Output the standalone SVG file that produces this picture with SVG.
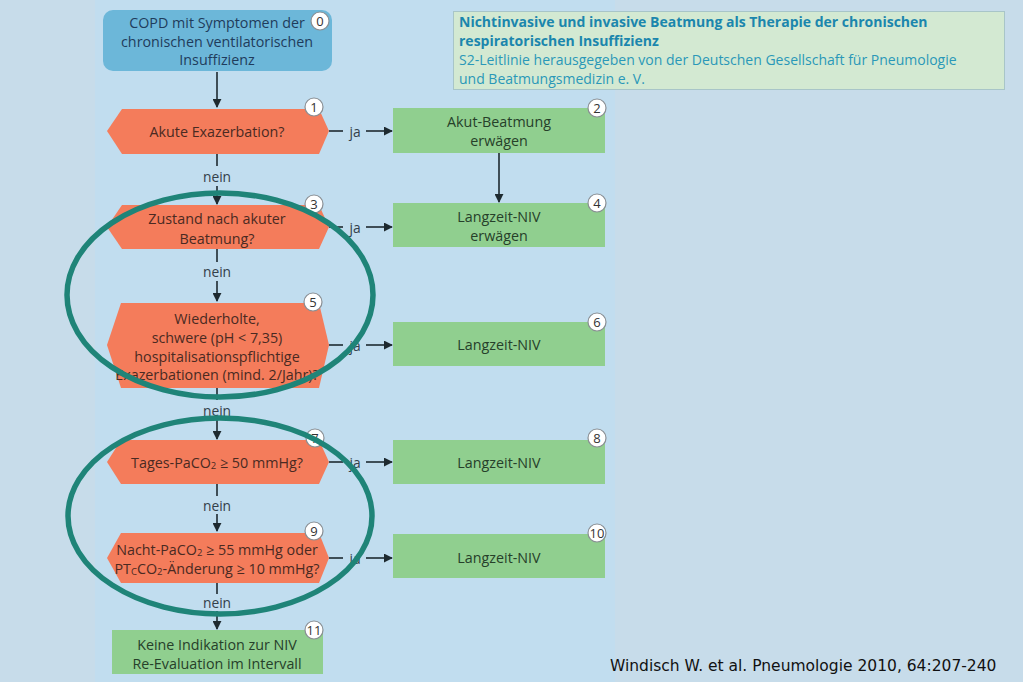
<svg xmlns="http://www.w3.org/2000/svg" width="1023" height="682" viewBox="0 0 1023 682">
<defs>
<marker id="ah" viewBox="0 0 10 10" refX="9" refY="5" markerWidth="9" markerHeight="9" markerUnits="userSpaceOnUse" orient="auto">
<path d="M0,0 L10,5 L0,10 z" fill="#1e2a30"/>
</marker>
<style>
.t{font-family:"Open Sans","Noto Sans","Liberation Sans",sans-serif;font-size:14.3px;text-anchor:middle;dominant-baseline:central}
.dec{fill:#f47c5b}
.dt{fill:#4a2a22}
.grn{fill:#90cf8f}
.gt{fill:#26402a}
.lbl{fill:#33404a;font-size:13.8px}
.ln{stroke:#1e2a30;stroke-width:1.6;fill:none}
.num circle{fill:#ffffff;stroke:#8a8f94;stroke-width:1.2}
.num text{font-family:"Open Sans","Noto Sans",sans-serif;font-size:13px;text-anchor:middle;dominant-baseline:central;fill:#333}
.ring{fill:none;stroke:#1f8478;stroke-width:5.5}
.sub{font-size:9.5px}
</style>
</defs>
<rect width="1023" height="682" fill="#c7dcea"/>
<rect x="95" y="0" width="520" height="682" fill="#c1ddef"/>

<g id="header">
<rect x="453.5" y="11.5" width="551" height="78" fill="#d3e9d2" stroke="#a8c5c8" stroke-width="1"/>
<text x="459" y="21" font-family="'Open Sans','Noto Sans',sans-serif" font-size="14" font-weight="bold" fill="#1b86ad" dominant-baseline="central">Nichtinvasive und invasive Beatmung als Therapie der chronischen</text>
<text x="459" y="40" font-family="'Open Sans','Noto Sans',sans-serif" font-size="14" font-weight="bold" fill="#1b86ad" dominant-baseline="central">respiratorischen Insuffizienz</text>
<text x="459" y="59" font-family="'Open Sans','Noto Sans',sans-serif" font-size="14" fill="#2a98b8" dominant-baseline="central">S2-Leitlinie herausgegeben von der Deutschen Gesellschaft für Pneumologie</text>
<text x="459" y="78" font-family="'Open Sans','Noto Sans',sans-serif" font-size="14" fill="#2a98b8" dominant-baseline="central">und Beatmungsmedizin e. V.</text>
</g>

<g id="connectors">
<line class="ln" x1="217" y1="72" x2="217" y2="107" marker-end="url(#ah)"/>
<line class="ln" x1="217" y1="154" x2="217" y2="166"/>
<text class="t lbl" x="217" y="176">nein</text>
<line class="ln" x1="217" y1="186" x2="217" y2="204" marker-end="url(#ah)"/>
<line class="ln" x1="217" y1="249" x2="217" y2="262"/>
<text class="t lbl" x="217" y="271">nein</text>
<line class="ln" x1="217" y1="281" x2="217" y2="301" marker-end="url(#ah)"/>
<line class="ln" x1="217" y1="388" x2="217" y2="400"/>
<text class="t lbl" x="217" y="410">nein</text>
<line class="ln" x1="217" y1="419" x2="217" y2="439" marker-end="url(#ah)"/>
<line class="ln" x1="217" y1="484" x2="217" y2="496"/>
<text class="t lbl" x="217" y="505">nein</text>
<line class="ln" x1="217" y1="514" x2="217" y2="531" marker-end="url(#ah)"/>
<line class="ln" x1="217" y1="583" x2="217" y2="594"/>
<text class="t lbl" x="217" y="602">nein</text>
<line class="ln" x1="217" y1="611" x2="217" y2="629" marker-end="url(#ah)"/>
<line class="ln" x1="499" y1="153" x2="499" y2="202" marker-end="url(#ah)"/>
<line class="ln" x1="329" y1="131" x2="343" y2="131"/>
<text class="t lbl" x="355" y="131">ja</text>
<line class="ln" x1="366" y1="131" x2="392" y2="131" marker-end="url(#ah)"/>
<line class="ln" x1="329" y1="227" x2="343" y2="227"/>
<text class="t lbl" x="355" y="227">ja</text>
<line class="ln" x1="366" y1="227" x2="392" y2="227" marker-end="url(#ah)"/>
<line class="ln" x1="329" y1="345" x2="343" y2="345"/>
<text class="t lbl" x="355" y="345">ja</text>
<line class="ln" x1="366" y1="345" x2="392" y2="345" marker-end="url(#ah)"/>
<line class="ln" x1="329" y1="462" x2="343" y2="462"/>
<text class="t lbl" x="355" y="462">ja</text>
<line class="ln" x1="366" y1="462" x2="392" y2="462" marker-end="url(#ah)"/>
<line class="ln" x1="329" y1="558" x2="343" y2="558"/>
<text class="t lbl" x="355" y="558">ja</text>
<line class="ln" x1="366" y1="558" x2="392" y2="558" marker-end="url(#ah)"/>
</g>

<g id="node0">
<rect x="103" y="10" width="229" height="61" rx="10" fill="#6cb7d9"/>
<text class="t" fill="#1f3c5c" x="217" y="22">COPD mit Symptomen der</text>
<text class="t" fill="#1f3c5c" x="217" y="41">chronischen ventilatorischen</text>
<text class="t" fill="#1f3c5c" x="217" y="59">Insuffizienz</text>
<g class="num"><circle cx="320" cy="21" r="9"/><text x="320" y="21">0</text></g>
</g>

<g id="node1">
<polygon class="dec" points="122,109 319,109 329,131 319,154 122,154 107,131"/>
<text class="t dt" x="217" y="131">Akute Exazerbation?</text>
<g class="num"><circle cx="314" cy="107" r="9"/><text x="314" y="107">1</text></g>
</g>

<g id="node2">
<rect class="grn" x="393" y="108" width="212" height="45"/>
<text class="t gt" x="499" y="121">Akut-Beatmung</text>
<text class="t gt" x="499" y="140">erwägen</text>
<g class="num"><circle cx="597" cy="108" r="9"/><text x="597" y="108">2</text></g>
</g>

<g id="node3">
<polygon class="dec" points="122,205 319,205 329,227 319,249 122,249 107,227"/>
<text class="t dt" x="217" y="218">Zustand nach akuter</text>
<text class="t dt" x="217" y="238">Beatmung?</text>
<g class="num"><circle cx="314" cy="204" r="9"/><text x="314" y="204">3</text></g>
</g>

<g id="node4">
<rect class="grn" x="393" y="203" width="212" height="44"/>
<text class="t gt" x="499" y="216">Langzeit-NIV</text>
<text class="t gt" x="499" y="235">erwägen</text>
<g class="num"><circle cx="597" cy="203" r="9"/><text x="597" y="203">4</text></g>
</g>

<g id="node5">
<polygon class="dec" points="121,303 319,303 329,345 319,388 121,388 107,345"/>
<text class="t dt" x="217" y="318">Wiederholte,</text>
<text class="t dt" x="217" y="337">schwere (pH &lt; 7,35)</text>
<text class="t dt" x="217" y="356">hospitalisationspflichtige</text>
<text class="t dt" x="217" y="374">Exazerbationen (mind. 2/Jahr)?</text>
<g class="num"><circle cx="313" cy="302" r="9"/><text x="313" y="302">5</text></g>
</g>

<g id="node6">
<rect class="grn" x="393" y="322" width="212" height="44"/>
<text class="t gt" x="499" y="344">Langzeit-NIV</text>
<g class="num"><circle cx="597" cy="322" r="9"/><text x="597" y="322">6</text></g>
</g>

<g id="node7">
<polygon class="dec" points="121,440 319,440 329,462 319,484 121,484 107,462"/>
<text class="t dt" x="217" y="462">Tages-PaCO<tspan class="sub" dy="3">2</tspan><tspan dy="-3"> ≥ 50 mmHg?</tspan></text>
<g class="num"><circle cx="315" cy="438" r="9"/><text x="315" y="438">7</text></g>
</g>

<g id="node8">
<rect class="grn" x="393" y="440" width="212" height="44"/>
<text class="t gt" x="499" y="462">Langzeit-NIV</text>
<g class="num"><circle cx="597" cy="438" r="9"/><text x="597" y="438">8</text></g>
</g>

<g id="node9">
<polygon class="dec" points="121,533 319,533 329,558 319,583 121,583 107,558"/>
<text class="t dt" x="217" y="549">Nacht-PaCO<tspan class="sub" dy="3">2</tspan><tspan dy="-3"> ≥ 55 mmHg oder</tspan></text>
<text class="t dt" x="217" y="568">PT<tspan class="sub" dy="3">C</tspan><tspan dy="-3">CO</tspan><tspan class="sub" dy="3">2</tspan><tspan dy="-3">-Änderung ≥ 10 mmHg?</tspan></text>
<g class="num"><circle cx="314" cy="531" r="9"/><text x="314" y="531">9</text></g>
</g>

<g id="node10">
<rect class="grn" x="393" y="534" width="212" height="44"/>
<text class="t gt" x="499" y="557">Langzeit-NIV</text>
<g class="num"><circle cx="597" cy="533" r="9"/><text x="597" y="533">10</text></g>
</g>

<g id="node11">
<rect class="grn" x="112" y="630" width="211" height="44"/>
<text class="t gt" x="217" y="644">Keine Indikation zur NIV</text>
<text class="t gt" x="217" y="663">Re-Evaluation im Intervall</text>
<g class="num"><circle cx="314" cy="630" r="9"/><text x="314" y="630">11</text></g>
</g>

<g id="highlights">
<ellipse class="ring" cx="220" cy="295" rx="153" ry="102"/>
<ellipse class="ring" cx="220" cy="516" rx="152" ry="98"/>
</g>

<text x="610" y="666" font-family="'DejaVu Sans',Verdana,sans-serif" font-size="15.5" fill="#111" dominant-baseline="central">Windisch W. et al. Pneumologie 2010, 64:207-240</text>
</svg>
